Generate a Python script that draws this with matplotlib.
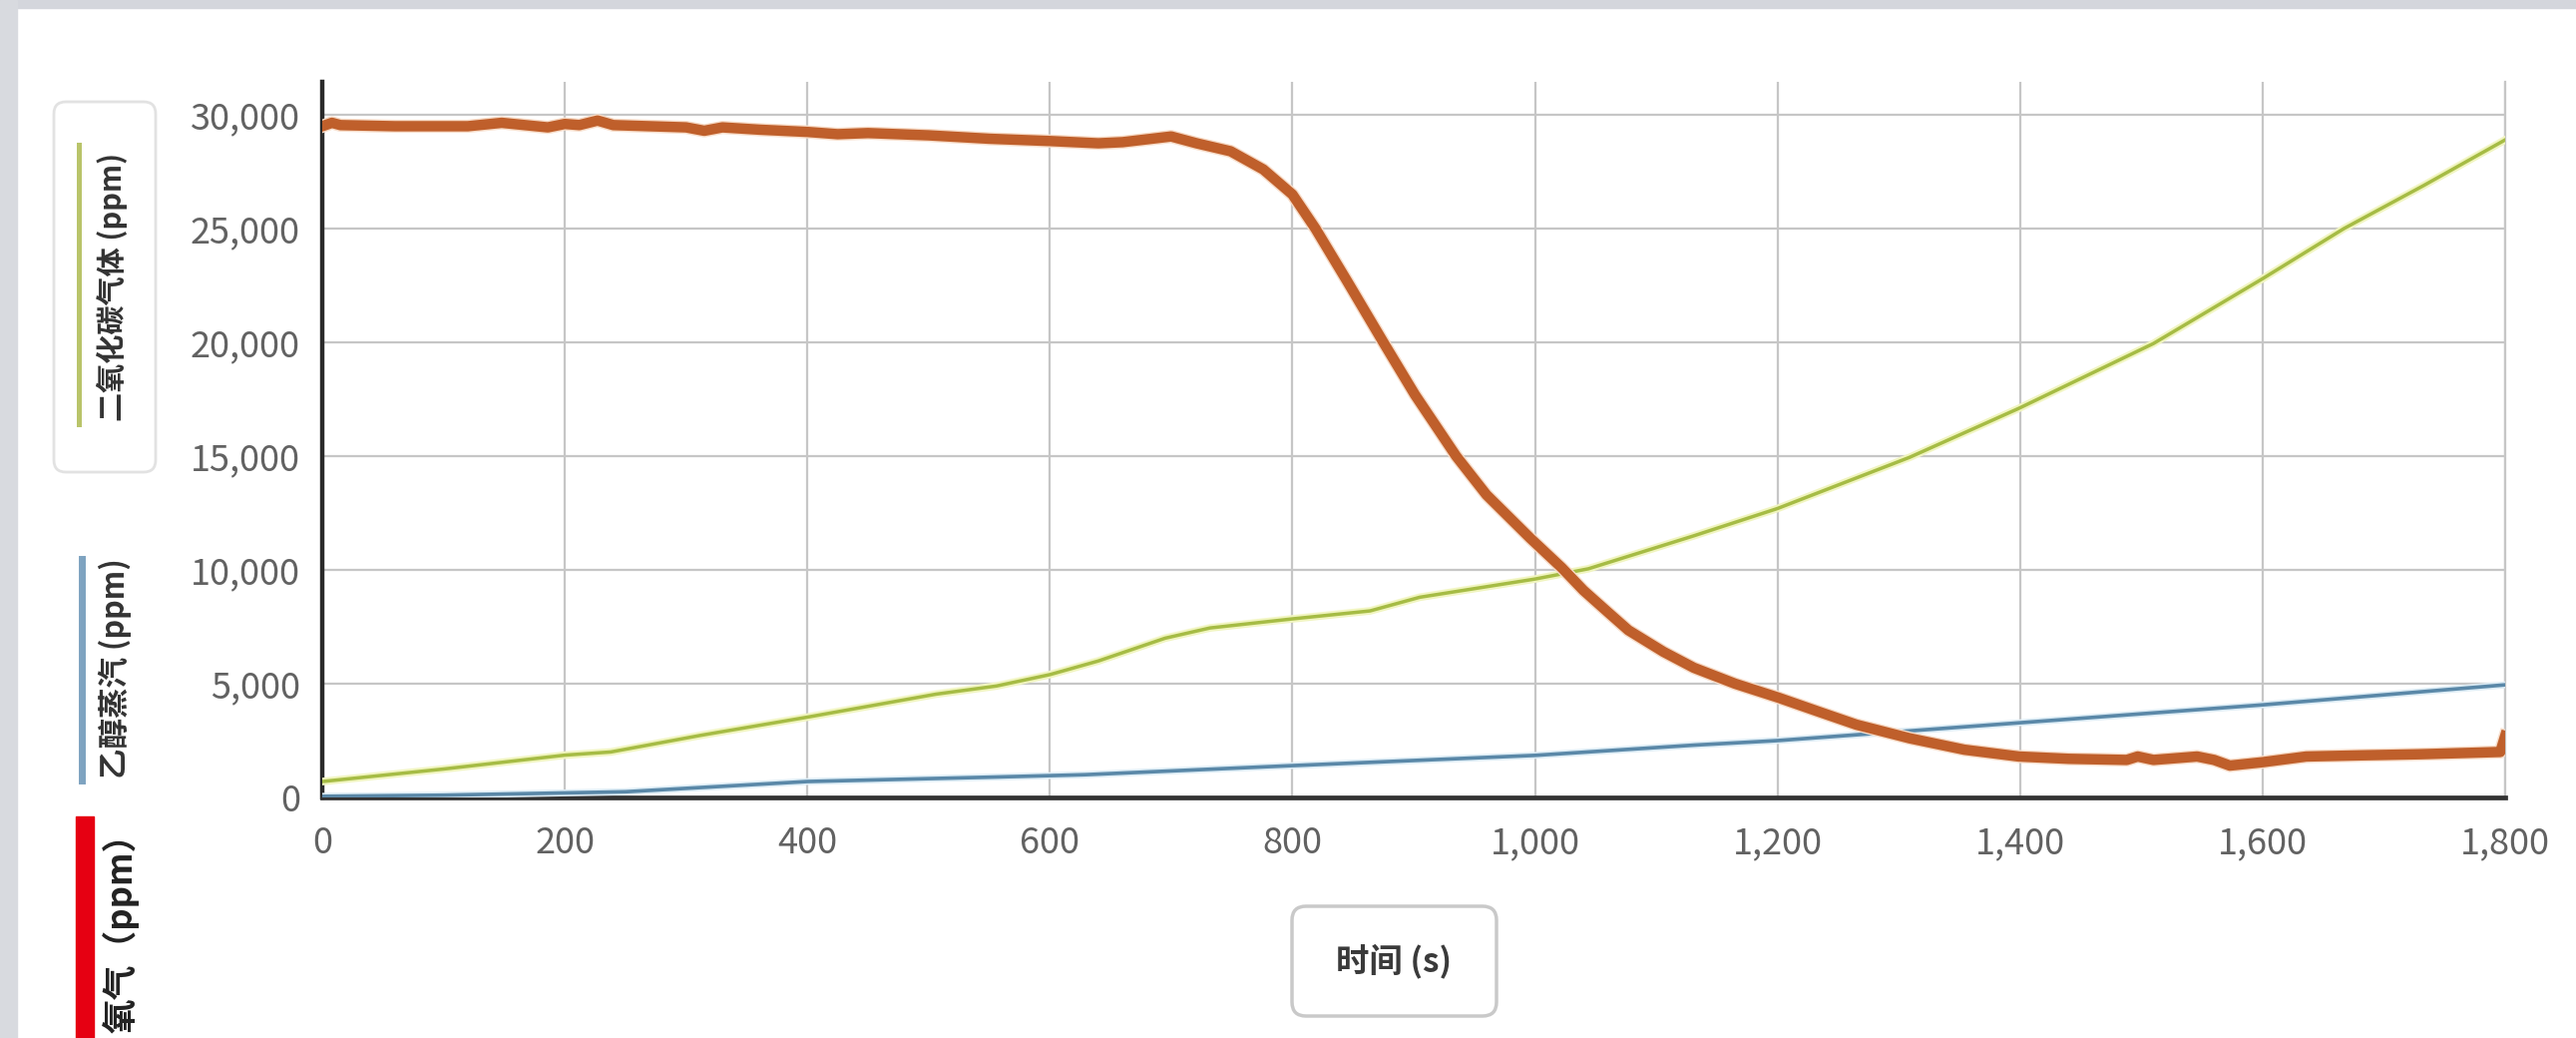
import matplotlib
matplotlib.use("Agg")
import matplotlib.pyplot as plt
import matplotlib.patheffects as pe
from matplotlib.lines import Line2D
from matplotlib.patches import FancyBboxPatch, Rectangle
from matplotlib.ticker import FuncFormatter
from matplotlib.transforms import IdentityTransform

plt.rcParams["font.family"] = ["Noto Sans CJK SC", "DejaVu Sans"]

W, H = 2582, 1040

# values
o2_t = [0, 8, 15, 60, 120, 148, 186, 200, 212, 227, 240, 300, 315, 330, 360,
        400, 425, 450, 500, 550, 600, 640, 660, 700, 721, 749, 776, 800, 819,
        845, 875, 901, 935, 960, 996, 1022, 1040, 1060, 1077, 1106, 1131, 1165,
        1200, 1235, 1265, 1309, 1354, 1399, 1440, 1488, 1497, 1510, 1546, 1560,
        1573, 1600, 1636, 1680, 1730, 1796, 1800]
o2_ppm = [29500, 29650, 29550, 29500, 29500, 29650, 29450, 29600, 29550, 29750,
          29550, 29450, 29300, 29450, 29350, 29250, 29150, 29200, 29100, 28950,
          28850, 28750, 28800, 29050, 28750, 28400, 27600, 26500, 25000, 22700,
          20000, 17700, 15000, 13300, 11400, 10100, 9100, 8150, 7350, 6400,
          5700, 5000, 4400, 3750, 3200, 2600, 2100, 1800, 1700, 1650, 1800,
          1650, 1800, 1650, 1400, 1550, 1800, 1850, 1900, 2000, 2700]

co2_t = [0, 100, 200, 238, 312, 400, 506, 556, 600, 640, 695, 732, 800, 864,
         905, 1000, 1044, 1131, 1200, 1309, 1399, 1510, 1600, 1667, 1733, 1800]
co2_ppm = [700, 1250, 1860, 2000, 2730, 3530, 4540, 4900, 5400, 6000, 7000,
           7450, 7850, 8200, 8800, 9600, 10050, 11500, 12700, 14950, 17100,
           19950, 22800, 25000, 26900, 28900]

eth_t = [0, 100, 250, 400, 557, 629, 800, 1000, 1131, 1200, 1399, 1600, 1800]
eth_ppm = [50, 100, 250, 700, 900, 1000, 1400, 1850, 2300, 2500, 3280, 4070, 4950]

x_ticks = list(range(0, 1801, 200))
y_ticks = list(range(0, 30001, 5000))

legend_labels = ["二氧化碳气体 (ppm)", "乙醇蒸汽 (ppm)", "氧气（ppm）"]
x_label = "时间 (s)"

fig = plt.figure(figsize=(W / 100, H / 100), dpi=100)
fig.patch.set_facecolor("white")
px = IdentityTransform()

# screenshot frame
fig.add_artist(Rectangle((0, H - 8), W, 8, transform=px, color="#d4d6dc", zorder=0))
fig.add_artist(Rectangle((0, 0), 17, H, transform=px, color="#d8dadf", zorder=0))

ax = fig.add_axes([323 / W, 1 - 799 / H, (2511 - 323) / W, (799 - 82) / H])
ax.set_xlim(0, 1800)
ax.set_ylim(0, 31450)

ax.plot(eth_t, eth_ppm, color="#5a88a8", lw=2.6, zorder=3,
        path_effects=[pe.Stroke(linewidth=5, foreground="#dcecf5"), pe.Normal()])
ax.plot(co2_t, co2_ppm, color="#a6bc45", lw=2.5, zorder=4,
        path_effects=[pe.Stroke(linewidth=5.5, foreground="#f1f5c0"), pe.Normal()])
ax.plot(o2_t, o2_ppm, color="#bf5f2b", lw=7.5, zorder=5, solid_joinstyle="round",
        path_effects=[pe.Stroke(linewidth=9.5, foreground="#f7dcc8"), pe.Normal()])

ax.set_xticks(x_ticks)
ax.set_yticks(y_ticks)
fmt = FuncFormatter(lambda v, p: f"{int(v):,}")
ax.xaxis.set_major_formatter(fmt)
ax.yaxis.set_major_formatter(fmt)
ax.tick_params(length=0, labelsize=26, labelcolor="#626262")
ax.tick_params(axis="x", pad=20)
ax.tick_params(axis="y", pad=16)
ax.grid(True, color="#c6c6c6", lw=1.6)
ax.set_axisbelow(True)

ax.spines["top"].set_visible(False)
ax.spines["right"].set_color("#c6c6c6")
ax.spines["right"].set_linewidth(1.6)
ax.spines["left"].set_color("#2a2a2a")
ax.spines["left"].set_linewidth(3.2)
ax.spines["bottom"].set_color("#333333")
ax.spines["bottom"].set_linewidth(3.4)

# vertical legend on the left
fig.add_artist(FancyBboxPatch((54, H - 473), 102, 371, transform=px,
                              boxstyle="round,pad=0,rounding_size=12",
                              fc="white", ec="#e2e2e2", lw=2))
fig.add_artist(Line2D([79, 79], [H - 145, H - 425], transform=px,
                      color="#b9c46a", lw=3.6))
fig.text(112, H - 287, legend_labels[0], transform=px, rotation=90,
         ha="center", va="center", fontsize=21, weight="bold", color="#333333")

fig.add_artist(Line2D([82, 82], [H - 560, H - 782], transform=px,
                      color="#7ea3c0", lw=5))
fig.text(115, H - 670, legend_labels[1], transform=px, rotation=90,
         ha="center", va="center", fontsize=22, weight="bold", color="#333333")

fig.add_artist(Rectangle((76, 0), 18, H - 818, transform=px, color="#e60012"))
fig.text(121, H - 926, legend_labels[2], transform=px, rotation=90,
         ha="center", va="center", fontsize=25, weight="bold", color="#222222")

# x axis title in a rounded box
fig.add_artist(FancyBboxPatch((1295, H - 1018), 205, 110, transform=px,
                              boxstyle="round,pad=0,rounding_size=14",
                              fc="white", ec="#c9c9c9", lw=2.5))
fig.text(1397, H - 963, x_label, transform=px, ha="center", va="center",
         fontsize=24, weight="bold", color="#3a3a3a")

fig.savefig("out.png", dpi=100)
